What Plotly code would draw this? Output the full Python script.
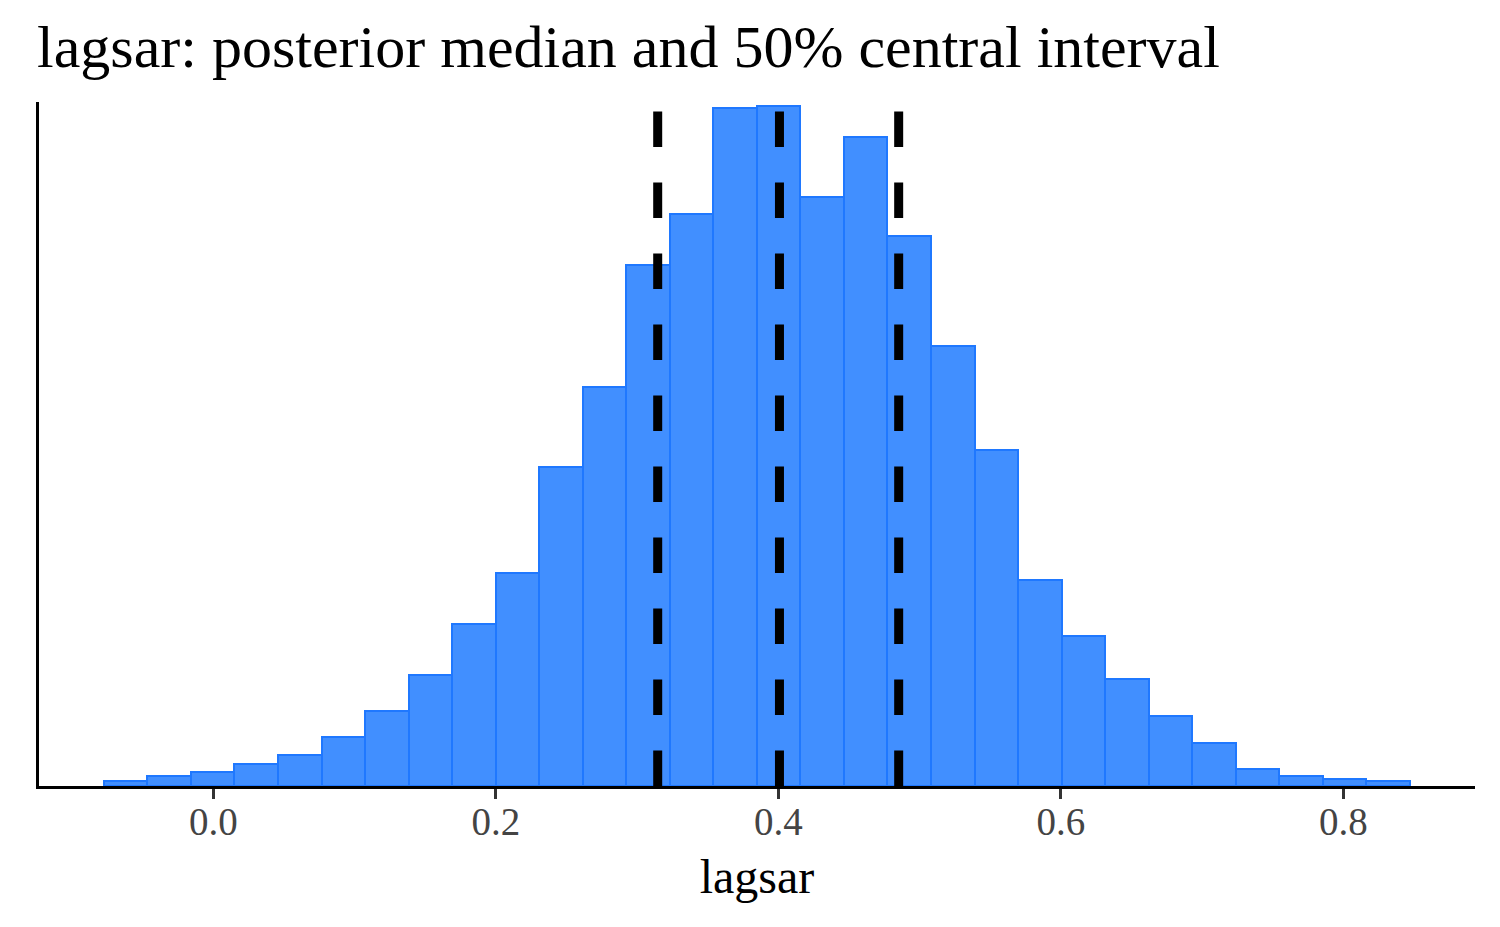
import numpy as np
import plotly.graph_objects as go

# Histogram data
bin_start = -0.0776
bin_width = 0.03082
counts = [3, 6, 8, 13, 18, 29, 44, 65, 95, 125,
          187, 234, 306, 336, 398, 399, 346, 381, 323, 258,
          197, 121, 88, 63, 41, 25, 10, 6, 4, 3]

# Posterior median and 50% central interval
interval_lines = [0.3145, 0.4007, 0.4851]

tick_vals = [0.0, 0.2, 0.4, 0.6, 0.8]
tick_text = ["0.0", "0.2", "0.4", "0.6", "0.8"]

centers = bin_start + bin_width * (np.arange(len(counts)) + 0.5)

FONT = "Liberation Serif, Times New Roman, serif"

fig = go.Figure()
fig.add_trace(go.Bar(
    x=centers, y=counts, width=bin_width,
    marker=dict(color="#418FFF", line=dict(color="#1F78FF", width=2)),
    showlegend=False, hoverinfo="x+y",
))

for v in interval_lines:
    fig.add_shape(type="line", xref="x", yref="paper", x0=v, x1=v, y0=0, y1=1,
                  line=dict(color="black", width=9, dash="35.5px,35.5px"), layer="above")

fig.update_layout(
    width=1500, height=927,
    margin=dict(l=31, r=33, t=94, b=149),
    paper_bgcolor="white", plot_bgcolor="white",
    font=dict(family=FONT, color="black"),
    bargap=0,
    title=dict(text="lagsar: posterior median and 50% central interval",
               font=dict(family=FONT, size=60, color="black"),
               x=29 / 1500, xanchor="left", xref="container",
               y=1 - 38 / 927, yanchor="middle", yref="container"),
    xaxis=dict(
        range=[-0.1235, 0.8931],
        tickvals=tick_vals, ticktext=tick_text,
        ticks="outside", ticklen=10, tickwidth=2.5, tickcolor="#333333",
        tickfont=dict(family=FONT, size=39, color="#444444"),
        ticklabelstandoff=-11,
        showline=True, linecolor="black", linewidth=3,
        showgrid=False, zeroline=False,
        title=dict(text="lagsar", font=dict(family=FONT, size=48, color="black"), standoff=18),
    ),
    yaxis=dict(
        range=[0, 401.5],
        showticklabels=False, ticks="",
        showline=True, linecolor="black", linewidth=3,
        showgrid=False, zeroline=False,
    ),
)

fig.write_html("out.html")
